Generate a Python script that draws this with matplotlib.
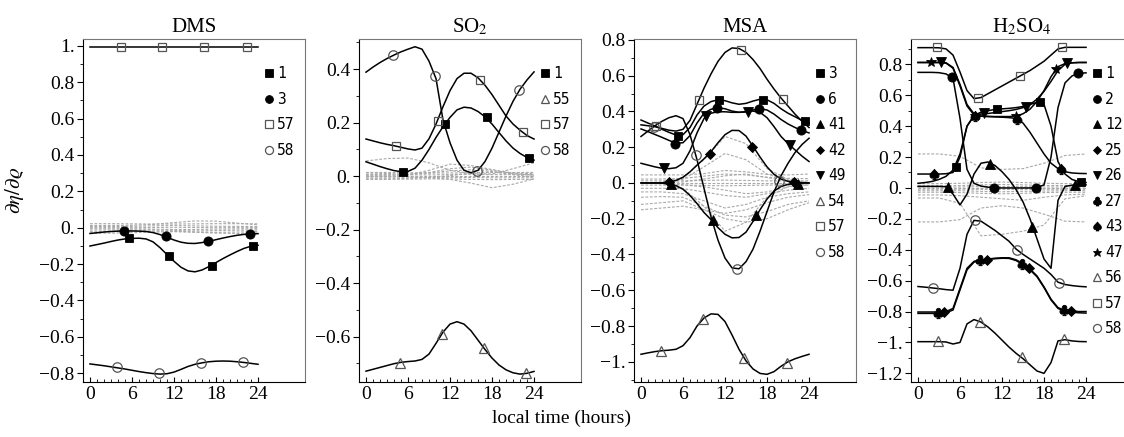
import matplotlib
matplotlib.use("Agg")
import matplotlib.pyplot as plt
from matplotlib.ticker import FixedLocator, MultipleLocator, FuncFormatter
from matplotlib.lines import Line2D

plt.rcParams['font.family'] = ['Liberation Serif', 'DejaVu Serif']
plt.rcParams['mathtext.fontset'] = 'stix'

hours = list(range(25))
hours3 = [0, 3, 6, 9, 12, 15, 18, 21, 24]

# ---------------- DMS ----------------
dms_1 = [-0.101, -0.093, -0.085, -0.076, -0.068, -0.062, -0.059, -0.058, -0.062, -0.078, -0.110, -0.148,
         -0.185, -0.218, -0.238, -0.243, -0.233, -0.214, -0.192, -0.170, -0.150, -0.131, -0.114, -0.102, -0.097]
dms_1_mt = [5.5, 11.3, 17.4, 23.3]
dms_1_mv = [-0.058, -0.156, -0.209, -0.101]
dms_3 = [-0.032, -0.028, -0.024, -0.021, -0.019, -0.018, -0.018, -0.019, -0.021, -0.027, -0.038, -0.053,
         -0.068, -0.080, -0.086, -0.087, -0.082, -0.075, -0.066, -0.057, -0.049, -0.042, -0.037, -0.034, -0.033]
dms_3_mt = [4.8, 10.9, 16.9, 22.9]
dms_3_mv = [-0.018, -0.046, -0.073, -0.035]
dms_57 = [0.995, 0.995, 0.995, 0.995, 0.995, 0.995, 0.995, 0.995, 0.995, 0.995, 0.995, 0.995,
          0.995, 0.995, 0.995, 0.995, 0.995, 0.995, 0.995, 0.995, 0.995, 0.995, 0.995, 0.995, 0.995]
dms_57_mt = [4.4, 10.3, 16.3, 22.4]
dms_57_mv = [0.995, 0.995, 0.995, 0.995]
dms_58 = [-0.750, -0.755, -0.760, -0.766, -0.772, -0.778, -0.785, -0.792, -0.798, -0.803, -0.806, -0.804,
          -0.795, -0.780, -0.764, -0.752, -0.744, -0.738, -0.735, -0.734, -0.735, -0.738, -0.742, -0.747, -0.752]
dms_58_mt = [3.8, 9.8, 15.8, 21.8]
dms_58_mv = [-0.767, -0.802, -0.744, -0.738]
dms_gray = [
    [0.012, 0.012, 0.013, 0.018, 0.028, 0.037, 0.036, 0.025, 0.016],
    [0.022, 0.022, 0.021, 0.020, 0.020, 0.021, 0.022, 0.022, 0.021],
    [0.006, 0.006, 0.007, 0.010, 0.012, 0.010, 0.008, 0.007, 0.006],
    [0.0, 0.0, 0.0, 0.001, 0.002, 0.001, 0.0, 0.0, 0.0],
    [-0.006, -0.006, -0.006, -0.008, -0.010, -0.010, -0.008, -0.007, -0.006],
    [-0.013, -0.013, -0.012, -0.012, -0.015, -0.018, -0.016, -0.014, -0.013],
    [-0.022, -0.022, -0.020, -0.018, -0.020, -0.024, -0.026, -0.024, -0.022],
    [-0.030, -0.030, -0.028, -0.024, -0.022, -0.025, -0.030, -0.032, -0.030],
]

# ---------------- SO2 ----------------
so2_1 = [0.054, 0.045, 0.036, 0.028, 0.021, 0.017, 0.018, 0.030, 0.060, 0.100, 0.145, 0.185,
         0.220, 0.248, 0.258, 0.255, 0.242, 0.222, 0.195, 0.163, 0.132, 0.105, 0.085, 0.070, 0.060]
so2_1_mt = [5.3, 11.3, 17.3, 23.3]
so2_1_mv = [0.017, 0.194, 0.220, 0.068]
so2_55 = [-0.729, -0.722, -0.715, -0.708, -0.701, -0.696, -0.693, -0.691, -0.685, -0.665, -0.625, -0.583,
          -0.553, -0.544, -0.553, -0.578, -0.613, -0.648, -0.680, -0.706, -0.724, -0.735, -0.740, -0.737, -0.730]
so2_55_mt = [4.9, 10.8, 16.8, 22.9]
so2_55_mv = [-0.698, -0.591, -0.641, -0.735]
so2_57 = [0.139, 0.132, 0.125, 0.119, 0.114, 0.108, 0.102, 0.098, 0.105, 0.140, 0.195, 0.260,
          0.320, 0.365, 0.385, 0.385, 0.368, 0.340, 0.305, 0.265, 0.225, 0.195, 0.172, 0.152, 0.139]
so2_57_mt = [4.3, 10.3, 16.3, 22.4]
so2_57_mv = [0.113, 0.208, 0.360, 0.167]
so2_58 = [0.389, 0.408, 0.425, 0.440, 0.453, 0.465, 0.475, 0.484, 0.475, 0.430, 0.365, 0.210,
          0.125, 0.060, 0.022, 0.013, 0.022, 0.055, 0.105, 0.165, 0.225, 0.280, 0.325, 0.360, 0.390]
so2_58_mt = [3.9, 9.9, 15.8, 21.9]
so2_58_mv = [0.453, 0.376, 0.021, 0.322]
so2_gray = [
    [0.057, 0.066, 0.068, 0.050, 0.022, 0.010, 0.008, 0.028, 0.050],
    [0.0, 0.0, 0.004, 0.022, 0.045, 0.040, 0.025, 0.010, 0.004],
    [0.0, 0.0, -0.002, -0.006, -0.012, -0.026, -0.043, -0.030, -0.010],
    [0.012, 0.010, 0.008, 0.014, 0.028, 0.034, 0.022, 0.012, 0.010],
    [-0.010, -0.010, -0.008, -0.004, 0.002, 0.012, 0.016, 0.006, -0.004],
    [0.014, 0.014, 0.013, 0.012, 0.012, 0.013, 0.014, 0.014, 0.014],
    [0.006, 0.006, 0.005, 0.005, 0.006, 0.007, 0.006, 0.006, 0.006],
    [0.0, 0.0, 0.0, 0.0, 0.0, 0.0, 0.0, 0.0, 0.0],
    [-0.006, -0.006, -0.006, -0.005, -0.004, -0.005, -0.006, -0.006, -0.006],
    [-0.012, -0.012, -0.011, -0.010, -0.010, -0.012, -0.013, -0.012, -0.012],
    [0.004, 0.004, 0.006, 0.012, 0.020, 0.024, 0.018, 0.008, 0.004],
]

# ---------------- MSA ----------------
msa_3 = [0.352, 0.335, 0.318, 0.300, 0.283, 0.268, 0.270, 0.310, 0.380, 0.430, 0.455, 0.465,
         0.460, 0.448, 0.440, 0.445, 0.458, 0.468, 0.465, 0.445, 0.415, 0.390, 0.370, 0.350, 0.335]
msa_3_mt = [5.3, 11.2, 17.4, 23.4]
msa_3_mv = [0.265, 0.462, 0.466, 0.345]
msa_6 = [0.302, 0.287, 0.271, 0.255, 0.238, 0.222, 0.225, 0.265, 0.335, 0.390, 0.412, 0.420,
         0.415, 0.402, 0.395, 0.398, 0.408, 0.415, 0.408, 0.385, 0.355, 0.330, 0.310, 0.293, 0.280]
msa_6_mt = [4.85, 10.8, 16.8, 22.9]
msa_6_mv = [0.220, 0.418, 0.414, 0.296]
msa_41 = [0.0, 0.0, 0.0, -0.001, -0.005, -0.015, -0.035, -0.070, -0.115, -0.165, -0.205, -0.250,
          -0.287, -0.307, -0.305, -0.275, -0.215, -0.150, -0.090, -0.045, -0.020, -0.008, -0.003, -0.001, 0.0]
msa_41_mt = [4.3, 10.3, 16.4, 22.4]
msa_41_mv = [-0.008, -0.206, -0.180, -0.004]
msa_42 = [0.0, 0.0, 0.0, 0.001, 0.005, 0.014, 0.032, 0.062, 0.100, 0.135, 0.175, 0.225,
          0.270, 0.294, 0.293, 0.262, 0.205, 0.145, 0.090, 0.048, 0.022, 0.009, 0.003, 0.001, 0.0]
msa_42_mt = [4.0, 9.8, 15.9, 21.9]
msa_42_mv = [0.005, 0.160, 0.200, 0.004]
msa_49 = [0.110, 0.100, 0.090, 0.082, 0.080, 0.085, 0.110, 0.180, 0.280, 0.360, 0.390, 0.398,
          0.398, 0.395, 0.395, 0.398, 0.402, 0.395, 0.365, 0.315, 0.260, 0.220, 0.185, 0.150, 0.120]
msa_49_mt = [3.3, 9.3, 15.3, 21.3]
msa_49_mv = [0.081, 0.376, 0.398, 0.214]
msa_54 = [-0.958, -0.950, -0.943, -0.938, -0.935, -0.930, -0.910, -0.865, -0.800, -0.755, -0.732, -0.735,
          -0.775, -0.850, -0.930, -0.995, -1.040, -1.065, -1.070, -1.055, -1.025, -1.000, -0.983, -0.970, -0.958]
msa_54_mt = [2.85, 8.8, 14.75, 20.85]
msa_54_mv = [-0.940, -0.763, -0.977, -1.005]
msa_57 = [0.325, 0.320, 0.315, 0.305, 0.295, 0.290, 0.300, 0.350, 0.440, 0.530, 0.610, 0.680,
          0.730, 0.755, 0.752, 0.730, 0.690, 0.640, 0.580, 0.525, 0.475, 0.430, 0.385, 0.345, 0.310]
msa_57_mt = [2.1, 8.3, 14.3, 20.3]
msa_57_mv = [0.318, 0.466, 0.745, 0.469]
msa_58 = [0.260, 0.290, 0.320, 0.345, 0.365, 0.376, 0.360, 0.270, 0.130, -0.030, -0.190, -0.320,
          -0.420, -0.475, -0.480, -0.440, -0.370, -0.270, -0.160, -0.050, 0.040, 0.110, 0.170, 0.215, 0.250]
msa_58_mt = [1.85, 7.85, 13.7, 19.7]
msa_58_mv = [0.315, 0.159, -0.483, 0.010]
msa_gray = [
    [0.0, 0.004, 0.030, 0.130, 0.260, 0.220, 0.080, 0.020, 0.002],
    [0.0, -0.004, -0.030, -0.130, -0.270, -0.220, -0.080, -0.020, -0.002],
    [0.0, 0.004, 0.020, 0.090, 0.165, 0.130, 0.050, 0.015, 0.002],
    [0.045, 0.045, 0.045, 0.052, 0.070, 0.062, 0.048, 0.045, 0.050],
    [0.022, 0.022, 0.025, 0.038, 0.050, 0.045, 0.032, 0.026, 0.024],
    [-0.050, -0.050, -0.060, -0.100, -0.140, -0.120, -0.080, -0.060, -0.050],
    [-0.080, -0.076, -0.080, -0.130, -0.180, -0.190, -0.160, -0.120, -0.100],
    [-0.120, -0.110, -0.100, -0.150, -0.200, -0.220, -0.200, -0.150, -0.110],
    [-0.150, -0.140, -0.130, -0.150, -0.170, -0.150, -0.110, -0.080, -0.065],
    [-0.030, -0.030, -0.032, -0.050, -0.070, -0.080, -0.060, -0.040, -0.030],
    [0.0, 0.0, 0.006, 0.022, 0.040, 0.050, 0.030, 0.010, 0.002],
    [0.0, -0.004, -0.010, -0.022, -0.040, -0.060, -0.050, -0.022, -0.010],
    [0.012, 0.012, 0.012, 0.014, 0.016, 0.014, 0.012, 0.012, 0.012],
    [-0.012, -0.012, -0.012, -0.014, -0.016, -0.014, -0.012, -0.012, -0.012],
    [0.0, 0.0, 0.0, 0.0, 0.0, 0.0, 0.0, 0.0, 0.0],
]

# ---------------- H2SO4 ----------------
h2so4_1 = [0.030, 0.035, 0.042, 0.055, 0.075, 0.115, 0.220, 0.400, 0.470, 0.490, 0.500, 0.508,
           0.512, 0.515, 0.520, 0.527, 0.540, 0.555, 0.540, 0.400, 0.170, 0.090, 0.055, 0.040, 0.035]
h2so4_1_mt = [5.4, 11.3, 17.4, 23.3]
h2so4_1_mv = [0.137, 0.511, 0.558, 0.036]
h2so4_2 = [0.748, 0.748, 0.748, 0.746, 0.738, 0.710, 0.450, 0.120, 0.030, 0.012, 0.005, 0.002,
           0.0, 0.0, 0.0, 0.0, 0.0, 0.002, 0.020, 0.200, 0.520, 0.680, 0.725, 0.742, 0.745]
h2so4_2_mt = [4.9, 10.9, 16.9, 22.9]
h2so4_2_mv = [0.715, 0.0, 0.0, 0.742]
h2so4_12 = [0.010, 0.010, 0.010, 0.010, 0.008, -0.040, -0.110, -0.040, 0.090, 0.160, 0.168, 0.145,
            0.105, 0.055, -0.010, -0.090, -0.200, -0.330, -0.460, -0.520, -0.080, 0.010, 0.018, 0.020, 0.020]
h2so4_12_mt = [4.3, 10.3, 16.3, 22.4]
h2so4_12_mv = [0.006, 0.158, -0.255, 0.022]
h2so4_25 = [-0.803, -0.803, -0.803, -0.802, -0.800, -0.780, -0.650, -0.520, -0.475, -0.465, -0.460, -0.455,
            -0.452, -0.452, -0.465, -0.490, -0.525, -0.570, -0.640, -0.720, -0.775, -0.792, -0.797, -0.800, -0.800]
h2so4_25_mt = [3.7, 9.8, 15.9, 21.9]
h2so4_25_mv = [-0.805, -0.467, -0.520, -0.795]
h2so4_26 = [0.812, 0.812, 0.812, 0.812, 0.810, 0.780, 0.670, 0.540, 0.480, 0.478, 0.482, 0.488,
            0.494, 0.500, 0.508, 0.520, 0.540, 0.575, 0.625, 0.690, 0.760, 0.800, 0.810, 0.812, 0.812]
h2so4_26_mt = [3.3, 9.4, 15.4, 21.3]
h2so4_26_mv = [0.818, 0.483, 0.525, 0.808]
h2so4_27 = [-0.812, -0.812, -0.812, -0.811, -0.808, -0.790, -0.660, -0.530, -0.480, -0.468, -0.462, -0.458,
            -0.455, -0.456, -0.470, -0.495, -0.530, -0.575, -0.645, -0.725, -0.780, -0.798, -0.805, -0.808, -0.810]
h2so4_27_mt = [2.8, 8.8, 14.8, 20.9]
h2so4_27_mv = [-0.812, -0.467, -0.490, -0.792]
h2so4_43 = [0.090, 0.090, 0.090, 0.090, 0.092, 0.100, 0.200, 0.400, 0.465, 0.465, 0.462, 0.460,
            0.458, 0.455, 0.450, 0.420, 0.360, 0.290, 0.220, 0.160, 0.125, 0.105, 0.097, 0.094, 0.093]
h2so4_43_mt = [2.3, 8.2, 14.2, 20.4]
h2so4_43_mv = [0.090, 0.465, 0.447, 0.120]
h2so4_47 = [0.812, 0.812, 0.812, 0.812, 0.808, 0.775, 0.660, 0.530, 0.472, 0.465, 0.463, 0.462,
            0.462, 0.462, 0.465, 0.480, 0.510, 0.560, 0.630, 0.720, 0.785, 0.805, 0.810, 0.812, 0.812]
h2so4_47_mt = [1.8, 8.2, 14.0, 19.7]
h2so4_47_mv = [0.813, 0.467, 0.465, 0.770]
h2so4_56 = [-0.995, -0.995, -0.995, -0.995, -0.997, -1.010, -1.000, -0.880, -0.852, -0.868, -0.900, -0.940,
            -0.985, -1.030, -1.070, -1.105, -1.145, -1.185, -1.200, -1.130, -0.990, -0.982, -0.990, -0.994, -0.995]
h2so4_56_mt = [2.9, 8.9, 14.8, 20.9]
h2so4_56_mv = [-0.990, -0.866, -1.092, -0.980]
h2so4_57 = [0.908, 0.908, 0.908, 0.907, 0.900, 0.860, 0.750, 0.630, 0.578, 0.585, 0.610, 0.635,
            0.660, 0.685, 0.710, 0.735, 0.760, 0.790, 0.820, 0.860, 0.900, 0.910, 0.910, 0.910, 0.910]
h2so4_57_mt = [2.67, 8.5, 14.6, 20.5]
h2so4_57_mv = [0.915, 0.580, 0.725, 0.912]
h2so4_58 = [-0.638, -0.642, -0.647, -0.652, -0.658, -0.662, -0.520, -0.300, -0.210, -0.215, -0.245, -0.275,
            -0.310, -0.345, -0.395, -0.430, -0.460, -0.490, -0.520, -0.560, -0.610, -0.625, -0.632, -0.637, -0.640]
h2so4_58_mt = [2.2, 8.2, 14.2, 20.2]
h2so4_58_mv = [-0.645, -0.205, -0.402, -0.614]
h2so4_gray = [
    [0.220, 0.220, 0.205, 0.130, 0.120, 0.125, 0.160, 0.210, 0.220],
    [-0.220, -0.220, -0.205, -0.130, -0.115, -0.130, -0.170, -0.215, -0.220],
    [-0.065, -0.065, -0.100, -0.310, -0.300, -0.280, -0.240, -0.070, -0.050],
    [-0.045, -0.045, -0.050, -0.060, -0.070, -0.080, -0.060, -0.045, -0.040],
    [0.028, 0.028, 0.030, 0.035, 0.038, 0.035, 0.030, 0.028, 0.028],
    [0.015, 0.015, 0.015, 0.020, 0.022, 0.020, 0.016, 0.015, 0.015],
    [0.006, 0.006, 0.006, 0.008, 0.010, 0.008, 0.006, 0.006, 0.006],
    [0.0, 0.0, 0.0, 0.0, 0.0, 0.0, 0.0, 0.0, 0.0],
    [-0.008, -0.008, -0.008, -0.009, -0.010, -0.009, -0.008, -0.008, -0.008],
    [-0.018, -0.018, -0.018, -0.022, -0.025, -0.022, -0.020, -0.018, -0.018],
    [-0.028, -0.028, -0.030, -0.035, -0.038, -0.035, -0.030, -0.028, -0.028],
]

# marker looks
GREY = '#555555'
def filled(m, ms):
    return dict(marker=m, ms=ms, mfc='black', mec='black', mew=0.6)
def hollow(m, ms):
    return dict(marker=m, ms=ms, mfc='none', mec=GREY, mew=0.9)

SQ = filled('s', 6.2)
CI = filled('o', 6.6)
TU = filled('^', 6.6)
DI = filled('D', 4.8)
TD = filled('v', 6.6)
CLUB = filled(r'$\clubsuit$', 7.5)
SPADE = filled(r'$\spadesuit$', 7.5)
STAR = filled('*', 7.5)
OTU = hollow('^', 6.6)
OSQ = hollow('s', 6.2)
OCI = hollow('o', 6.8)

panels = [
    ('DMS', (-0.8495, 1.0385),
     [('1', SQ, dms_1, dms_1_mt, dms_1_mv),
      ('3', CI, dms_3, dms_3_mt, dms_3_mv),
      ('57', OSQ, dms_57, dms_57_mt, dms_57_mv),
      ('58', OCI, dms_58, dms_58_mt, dms_58_mv)], dms_gray),
    ('SO$_2$', (-0.7695, 0.513),
     [('1', SQ, so2_1, so2_1_mt, so2_1_mv),
      ('55', OTU, so2_55, so2_55_mt, so2_55_mv),
      ('57', OSQ, so2_57, so2_57_mt, so2_57_mv),
      ('58', OCI, so2_58, so2_58_mt, so2_58_mv)], so2_gray),
    ('MSA', (-1.113, 0.805),
     [('3', SQ, msa_3, msa_3_mt, msa_3_mv),
      ('6', CI, msa_6, msa_6_mt, msa_6_mv),
      ('41', TU, msa_41, msa_41_mt, msa_41_mv),
      ('42', DI, msa_42, msa_42_mt, msa_42_mv),
      ('49', TD, msa_49, msa_49_mt, msa_49_mv),
      ('54', OTU, msa_54, msa_54_mt, msa_54_mv),
      ('57', OSQ, msa_57, msa_57_mt, msa_57_mv),
      ('58', OCI, msa_58, msa_58_mt, msa_58_mv)], msa_gray),
    ('H$_2$SO$_4$', (-1.256, 0.964),
     [('1', SQ, h2so4_1, h2so4_1_mt, h2so4_1_mv),
      ('2', CI, h2so4_2, h2so4_2_mt, h2so4_2_mv),
      ('12', TU, h2so4_12, h2so4_12_mt, h2so4_12_mv),
      ('25', DI, h2so4_25, h2so4_25_mt, h2so4_25_mv),
      ('26', TD, h2so4_26, h2so4_26_mt, h2so4_26_mv),
      ('27', CLUB, h2so4_27, h2so4_27_mt, h2so4_27_mv),
      ('43', SPADE, h2so4_43, h2so4_43_mt, h2so4_43_mv),
      ('47', STAR, h2so4_47, h2so4_47_mt, h2so4_47_mv),
      ('56', OTU, h2so4_56, h2so4_56_mt, h2so4_56_mv),
      ('57', OSQ, h2so4_57, h2so4_57_mt, h2so4_57_mv),
      ('58', OCI, h2so4_58, h2so4_58_mt, h2so4_58_mv)], h2so4_gray),
]

def tick_fmt(v, pos):
    if abs(v - round(v)) < 1e-6:
        s = '%d.' % int(round(v))
    else:
        s = '%.1f' % v
    if s.startswith('-'):
        s = '\u2212' + s[1:]
    return s

fig = plt.figure(figsize=(11.24, 4.37), dpi=100)
lefts = [83, 359, 634, 911]
for left, (title, ylim, series, grays) in zip(lefts, panels):
    ax = fig.add_axes([left / 1124, 1 - 382 / 437, 222 / 1124, 343 / 437])
    for g in grays:
        ax.plot(hours3, g, color='#a8a8a8', lw=0.8, ls=(0, (2.5, 1.5)), zorder=1)
    handles, labels = [], []
    for lab, st, vals, mt, mv in series:
        ax.plot(hours, vals, color='black', lw=1.1, zorder=2)
        ax.plot(mt, mv, ls='none', zorder=3, **st)
        h = dict(st)
        h['ms'] = st['ms'] * 0.85
        handles.append(Line2D([], [], ls='none', **h))
        labels.append(lab)
    ax.set_xlim(-1, 30.71)
    ax.set_ylim(*ylim)
    ax.xaxis.set_major_locator(FixedLocator([0, 6, 12, 18, 24]))
    ax.xaxis.set_minor_locator(FixedLocator(hours))
    ax.yaxis.set_major_locator(MultipleLocator(0.2))
    ax.yaxis.set_minor_locator(MultipleLocator(0.1))
    ax.yaxis.set_major_formatter(FuncFormatter(tick_fmt))
    ax.tick_params(axis='x', which='major', direction='in', length=3.5, width=0.8, labelsize=14, pad=3)
    ax.tick_params(axis='x', which='minor', direction='in', length=2, width=0.6)
    ax.tick_params(axis='y', which='major', direction='out', length=4, width=0.8, labelsize=14, pad=2)
    ax.tick_params(axis='y', which='minor', direction='out', length=2.5, width=0.6)
    for side in ['top', 'right']:
        ax.spines[side].set_color('#777777')
    for side in ['left', 'bottom']:
        ax.spines[side].set_color('black')
    ax.set_title(title, fontsize=15, pad=5)
    ax.legend(handles, labels, loc='upper left', bbox_to_anchor=(0.812, 0.920),
              frameon=False, prop={'family': 'DejaVu Sans Mono', 'size': 10.5},
              handlelength=0.8, handletextpad=0.15, labelspacing=0.72,
              borderpad=0, borderaxespad=0)

fig.text(0.5, 0.043, 'local time (hours)', ha='center', va='center', fontsize=14)
fig.text(0.013, 0.565, r'$\partial\eta/\partial\varrho$', rotation=90, ha='center', va='center', fontsize=15)

fig.savefig('out.png', dpi=100)
